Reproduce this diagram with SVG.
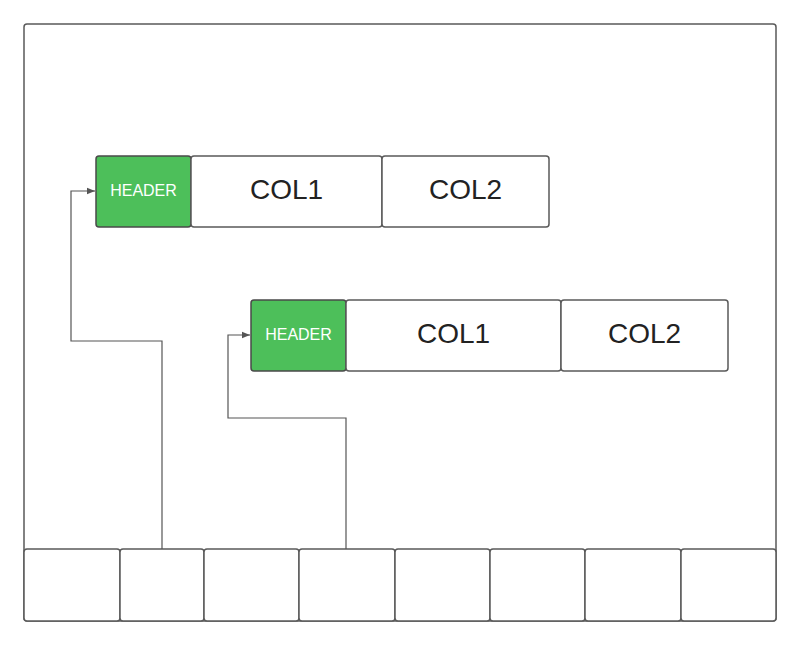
<svg xmlns="http://www.w3.org/2000/svg" width="800" height="645" viewBox="0 0 800 645">
<style>
.b{fill:#fff;stroke:#5a5a5a;stroke-width:1.5}
.h{fill:#4dbf5a;stroke:#4a4a4a;stroke-width:1.5}
.t{font-family:"Liberation Sans",Arial,sans-serif;fill:#222;text-anchor:middle;dominant-baseline:central}
.c{stroke:#555;stroke-width:1.2;fill:none;marker-end:url(#a)}
</style>
<defs><marker id="a" viewBox="0 0 10 10" refX="10" refY="5" markerWidth="8" markerHeight="8" orient="auto" markerUnits="userSpaceOnUse"><path d="M0,1L10,5L0,9z" fill="#555"/></marker></defs>
<rect id="frame" x="24" y="24" width="752" height="597" rx="3" class="b"/>
<g id="table1">
<rect x="96" y="156" width="95" height="71" rx="3" class="h"/><text x="143.5" y="190" class="t" font-size="16" fill="#fff" style="fill:#fff">HEADER</text>
<rect x="191" y="156" width="191" height="71" rx="3" class="b"/><text x="286.5" y="189" class="t" font-size="28">COL1</text>
<rect x="382" y="156" width="167" height="71" rx="3" class="b"/><text x="465.5" y="189" class="t" font-size="28">COL2</text>
</g>
<g id="table2">
<rect x="251" y="300" width="95" height="71" rx="3" class="h"/><text x="298.5" y="334" class="t" font-size="16" style="fill:#fff">HEADER</text>
<rect x="346" y="300" width="215" height="71" rx="3" class="b"/><text x="453.5" y="333" class="t" font-size="28">COL1</text>
<rect x="561" y="300" width="167" height="71" rx="3" class="b"/><text x="644.5" y="333" class="t" font-size="28">COL2</text>
</g>
<g id="row">
<rect x="24" y="549" width="96" height="72" rx="3" class="b"/>
<rect x="120" y="549" width="84" height="72" rx="3" class="b"/>
<rect x="204" y="549" width="95" height="72" rx="3" class="b"/>
<rect x="299" y="549" width="96" height="72" rx="3" class="b"/>
<rect x="395" y="549" width="95" height="72" rx="3" class="b"/>
<rect x="490" y="549" width="95" height="72" rx="3" class="b"/>
<rect x="585" y="549" width="96" height="72" rx="3" class="b"/>
<rect x="681" y="549" width="95" height="72" rx="3" class="b"/>
</g>
<g id="connectors">
<path class="c" d="M162,549V341H71V191H95"/>
<path class="c" d="M346,549V418H228V335H250"/>
</g>
</svg>
